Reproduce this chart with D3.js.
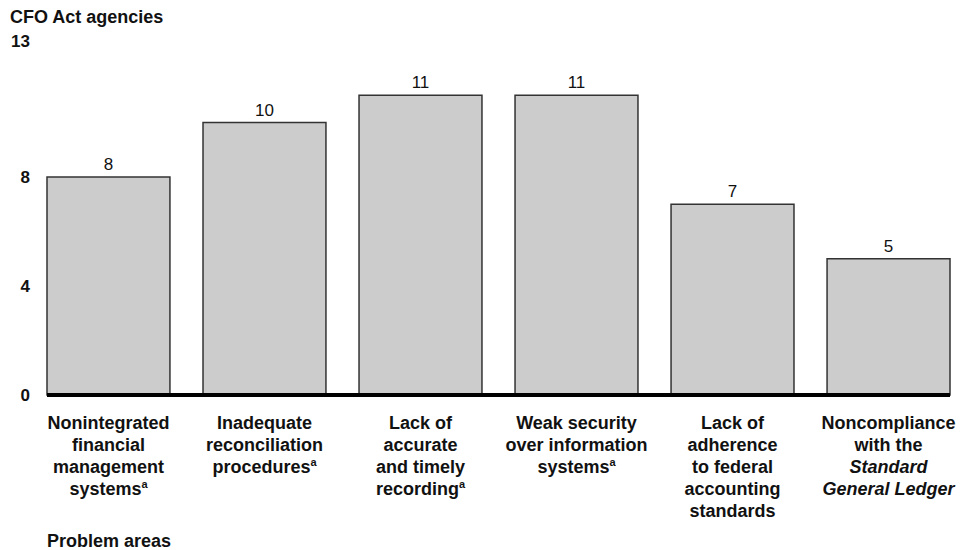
<!DOCTYPE html>
<html>
<head>
<meta charset="utf-8">
<script src="https://cdn.jsdelivr.net/npm/d3@7"></script>
<style>
  body { margin: 0; background: #fff; }
  text { font-family: "Liberation Sans", Arial, Helvetica, sans-serif; fill: #111; }
</style>
</head>
<body>
<div id="chart"></div>
<script>
// data
var categories = ["nonintegrated", "reconciliation", "recording", "security", "adherence", "sgl"];
var values = [8, 10, 11, 11, 7, 5];
// each label: lines of [text, style] pieces; "sup" = superscript, "i" = italic
var labelLines = [
  [[["Nonintegrated"]], [["financial"]], [["management"]], [["systems"], ["a", "sup"]]],
  [[["Inadequate"]], [["reconciliation"]], [["procedures"], ["a", "sup"]]],
  [[["Lack of"]], [["accurate"]], [["and timely"]], [["recording"], ["a", "sup"]]],
  [[["Weak security"]], [["over information"]], [["systems"], ["a", "sup"]]],
  [[["Lack of"]], [["adherence"]], [["to federal"]], [["accounting"]], [["standards"]]],
  [[["Noncompliance"]], [["with the"]], [["Standard", "i"]], [["General Ledger", "i"]]]
];
var tickValues = [0, 4, 8, 13];

var svgWidth = 975;
var svgHeight = 550;

var svg = d3.select("#chart")
  .append("svg")
  .attr("width", svgWidth)
  .attr("height", svgHeight);

var x = d3.scaleBand()
  .domain(categories)
  .range([47, 950])
  .paddingInner(0.212)
  .paddingOuter(0);

var y = d3.scaleLinear()
  .domain([0, 13])
  .range([395, 40.75]);

// y axis title
svg.append("text")
  .attr("x", 10)
  .attr("y", 23)
  .style("font-size", "18px")
  .style("font-weight", "bold")
  .text("CFO Act agencies");

// y tick labels
svg.selectAll(".ytick")
  .data(tickValues)
  .enter()
  .append("text")
  .attr("class", "ytick")
  .attr("x", 30)
  .attr("y", d => y(d) + 6)
  .attr("text-anchor", "end")
  .style("font-size", "17px")
  .style("font-weight", "bold")
  .text(d => d);

// bars
svg.selectAll(".bar")
  .data(values)
  .enter()
  .append("rect")
  .attr("class", "bar")
  .attr("x", (d, i) => x(categories[i]))
  .attr("y", d => y(d))
  .attr("width", x.bandwidth())
  .attr("height", d => y(0) - y(d))
  .attr("fill", "#cccccc")
  .attr("stroke", "#333")
  .attr("stroke-width", 1.5);

// value labels
svg.selectAll(".val")
  .data(values)
  .enter()
  .append("text")
  .attr("class", "val")
  .attr("x", (d, i) => x(categories[i]) + x.bandwidth() / 2)
  .attr("y", d => y(d) - 7)
  .attr("text-anchor", "middle")
  .style("font-size", "17px")
  .text(d => d);

// baseline
svg.append("line")
  .attr("x1", x.range()[0])
  .attr("x2", x.range()[1])
  .attr("y1", y(0))
  .attr("y2", y(0))
  .attr("stroke", "#000")
  .attr("stroke-width", 4);

// category labels
labelLines.forEach(function(lines, i) {
  var cx = x(categories[i]) + x.bandwidth() / 2;
  var t = svg.append("text")
    .attr("x", cx)
    .attr("y", 429)
    .attr("text-anchor", "middle")
    .style("font-size", "18px")
    .style("font-weight", "bold");
  lines.forEach(function(pieces, j) {
    pieces.forEach(function(p, k) {
      var ts = t.append("tspan").text(p[0]);
      if (k === 0) {
        ts.attr("x", cx).attr("dy", j === 0 ? 0 : 22);
      }
      if (p[1] === "sup") {
        ts.attr("dy", -7).style("font-size", "11px");
      }
      if (p[1] === "i") {
        ts.style("font-style", "italic");
      }
    });
    // reset baseline after a superscript
    if (pieces.some(p => p[1] === "sup")) {
      t.append("tspan").attr("dy", 7).text("");
    }
  });
});

// x axis title
svg.append("text")
  .attr("x", 47)
  .attr("y", 547)
  .style("font-size", "18px")
  .style("font-weight", "bold")
  .text("Problem areas");
</script>
</body>
</html>
